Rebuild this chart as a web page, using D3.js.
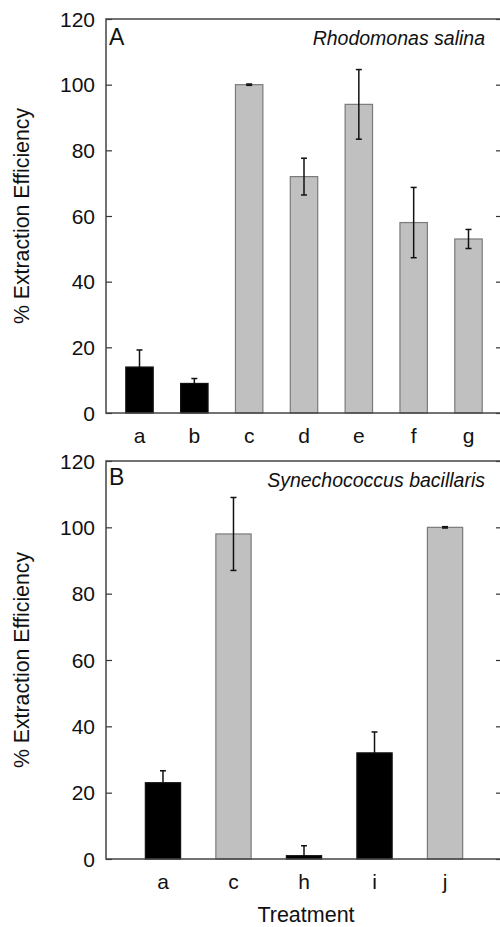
<!DOCTYPE html>
<html><head><meta charset="utf-8">
<script src="https://cdn.jsdelivr.net/npm/d3@7"></script>
<style>
html,body{margin:0;padding:0;background:#fff;}
svg{display:block;font-family:"Liberation Sans",Arial,Helvetica,sans-serif;}
</style></head>
<body>
<svg id="chart" width="500" height="927"></svg>
<script>
// Panel A: Rhodomonas salina
const catsA = ["a","b","c","d","e","f","g"];
const valsA = [14, 9, 100, 72, 94, 58, 53];
const errA  = [5.2, 1.5, 0.2, 5.6, 10.6, 10.7, 2.9];
const typeA = ["black","black","gray","gray","gray","gray","gray"];
// Panel B: Synechococcus bacillaris
const catsB = ["a","c","h","i","j"];
const valsB = [23, 98, 1, 32, 100];
const errB  = [3.6, 11, 3, 6.3, 0.2];
const typeB = ["black","gray","black","black","gray"];
const yTicks = [0, 20, 40, 60, 80, 100, 120];

const svg = d3.select("#chart");
const left = 106, right = 502;

function panel(cfg){
  const g = svg.append("g");
  const y = d3.scaleLinear().domain([0,120]).range([cfg.bottom, cfg.top]);
  const x = d3.scaleBand().domain(cfg.cats).range([left, right])
      .paddingInner(0.5).paddingOuter(cfg.po);
  const data = cfg.cats.map((c,i)=>({c, v:cfg.vals[i], e:cfg.err[i], t:cfg.type[i]}));
  const cx = d => x(d.c)+x.bandwidth()/2;
  const lo = d => d.t==="black" ? d.v : d.v-d.e;

  // bars
  g.selectAll("rect.bar").data(data).join("rect")
    .attr("x", d=>x(d.c)).attr("width", x.bandwidth())
    .attr("y", d=>y(d.v)).attr("height", d=>y(0)-y(d.v))
    .attr("fill", d=>d.t==="black"?"#000":"#c0c0c0")
    .attr("stroke", d=>d.t==="black"?"#111":"#7a7a7a")
    .attr("stroke-width", 1.2);

  // error bars
  const eb = g.selectAll("g.err").data(data).join("g")
    .attr("stroke", "#111").attr("stroke-width", 1.5);
  eb.append("line")
    .attr("x1", cx).attr("x2", cx)
    .attr("y1", d=>y(d.v+d.e)).attr("y2", d=>y(lo(d)));
  eb.append("line")
    .attr("x1", d=>cx(d)-3).attr("x2", d=>cx(d)+3)
    .attr("y1", d=>y(d.v+d.e)).attr("y2", d=>y(d.v+d.e));
  eb.filter(d=>d.t!=="black").append("line")
    .attr("x1", d=>cx(d)-3).attr("x2", d=>cx(d)+3)
    .attr("y1", d=>y(d.v-d.e)).attr("y2", d=>y(d.v-d.e));

  // left axis (inner ticks)
  const ya = g.append("g").attr("transform", `translate(${left},0)`)
    .call(d3.axisRight(y).tickValues(yTicks).tickSize(6).tickFormat(""));
  ya.select(".domain").remove();
  ya.selectAll("line").attr("stroke","#333").attr("stroke-width",1.2);
  // left tick labels
  g.selectAll("text.yl").data(yTicks).join("text")
    .attr("x", 95).attr("y", d=>y(d)).attr("dy","0.36em")
    .attr("text-anchor","end").attr("font-size",21).attr("fill","#111")
    .text(d=>d);
  // right axis inner ticks
  const yr = g.append("g").attr("transform", `translate(${right},0)`)
    .call(d3.axisLeft(y).tickValues(yTicks).tickSize(6).tickFormat(""));
  yr.select(".domain").remove();
  yr.selectAll("line").attr("stroke","#333").attr("stroke-width",1.2);

  // frame
  g.append("rect").attr("x", left).attr("y", cfg.top)
    .attr("width", right-left).attr("height", cfg.bottom-cfg.top)
    .attr("fill","none").attr("stroke","#444").attr("stroke-width",1.5);

  // x labels
  const xa = g.append("g").attr("transform", `translate(0,${cfg.bottom})`)
    .call(d3.axisBottom(x).tickSize(0).tickPadding(0));
  xa.select(".domain").remove();
  xa.selectAll("text").attr("font-size",21).attr("fill","#111")
    .attr("font-family",'"Liberation Sans",Arial,sans-serif')
    .attr("dy",null).attr("y", cfg.labelBase-cfg.bottom);

  // panel letter
  g.append("text").attr("x",109).attr("y",cfg.letterY)
    .attr("font-size",23).attr("fill","#111").text(cfg.letter);
  g.append("text").attr("x",485).attr("y",cfg.speciesY)
    .attr("text-anchor","end").attr("font-size",19.5).attr("font-style","italic")
    .attr("fill","#111").text(cfg.species);

  // y title
  g.append("text")
    .attr("transform", `translate(29,${(cfg.top+cfg.bottom)/2}) rotate(-90)`)
    .attr("text-anchor","middle").attr("font-size",21.3).attr("fill","#111")
    .text("% Extraction Efficiency");
}

panel({cats:catsA, vals:valsA, err:errA, type:typeA, top:19, bottom:413,
  po:0.361, labelBase:443, letter:"A", letterY:45, species:"Rhodomonas salina", speciesY:45});
panel({cats:catsB, vals:valsB, err:errB, type:typeB, top:461, bottom:859,
  po:0.558, labelBase:889, letter:"B", letterY:485, species:"Synechococcus bacillaris", speciesY:487});

svg.append("text").attr("x",306).attr("y",922).attr("text-anchor","middle")
  .attr("font-size",21.5).attr("fill","#111").text("Treatment");
</script>
</body></html>
